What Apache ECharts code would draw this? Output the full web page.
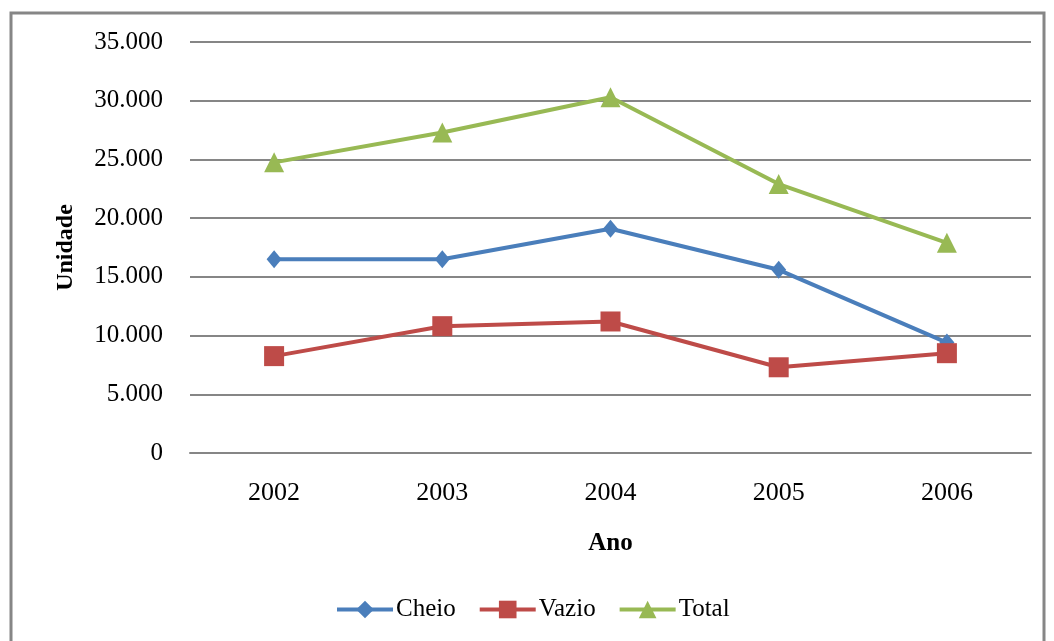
<!DOCTYPE html>
<html>
<head>
<meta charset="utf-8">
<script src="https://cdn.jsdelivr.net/npm/echarts@6/dist/echarts.min.js"></script>
<style>
  html, body { margin: 0; padding: 0; background: #fff; }
  #chart { width: 1054px; height: 641px; }
</style>
</head>
<body>
<div id="chart"></div>
<script>
var anos = ['2002', '2003', '2004', '2005', '2006']
var cheio = [16500, 16500, 19100, 15600, 9400]
var vazio = [8250, 10800, 11200, 7300, 8500]
var total = [24750, 27300, 30300, 22900, 17900]

var chart = echarts.init(document.getElementById('chart'))
var fonte = 'Liberation Serif'

function serie(nome, dados, cor, simbolo, tam) {
  return {
    name: nome,
    type: 'line',
    data: dados,
    symbol: simbolo,
    symbolSize: tam,
    showAllSymbol: true,
    lineStyle: { color: cor, width: 4 },
    itemStyle: { color: cor },
    emphasis: { disabled: true }
  }
}

var option = {
  animation: false,
  textStyle: { fontFamily: fonte },
  graphic: [
    {
      type: 'rect',
      shape: { x: 11, y: 13, width: 1033, height: 640 },
      style: { fill: 'none', stroke: '#868686', lineWidth: 3 }
    }
  ],
  grid: { left: 190, right: 23, top: 42, bottom: 188 },
  legend: {
    top: 592,
    left: 330,
    itemWidth: 56,
    itemHeight: 22,
    itemGap: 22,
    lineStyle: { width: 4 },
    textStyle: { fontFamily: fonte, fontSize: 25, color: '#000', padding: [0, 0, 0, -2] },
    data: ['Cheio', 'Vazio', 'Total']
  },
  xAxis: {
    type: 'category',
    data: anos,
    boundaryGap: true,
    name: 'Ano',
    nameLocation: 'middle',
    nameGap: 78,
    nameTextStyle: { fontFamily: fonte, fontSize: 25, fontWeight: 'bold', color: '#000' },
    axisLine: { show: true, lineStyle: { color: '#868686', width: 2 } },
    axisTick: { show: false },
    axisLabel: { fontFamily: fonte, fontSize: 26, color: '#000', margin: 27 }
  },
  yAxis: {
    type: 'value',
    min: 0,
    max: 35000,
    interval: 5000,
    name: 'Unidade',
    nameLocation: 'middle',
    nameGap: 112,
    nameTextStyle: { fontFamily: fonte, fontSize: 24, fontWeight: 'bold', color: '#000' },
    axisLine: { show: false },
    axisTick: { show: false },
    splitLine: { lineStyle: { color: '#868686', width: 2 } },
    axisLabel: {
      fontFamily: fonte,
      fontSize: 25,
      color: '#000',
      margin: 27,
      formatter: function (v) {
        return String(v).replace(/\B(?=(\d{3})+(?!\d))/g, '.')
      }
    }
  },
  series: [
    serie('Cheio', cheio, '#4a7ebb', 'diamond', [15, 18]),
    serie('Vazio', vazio, '#be4b48', 'rect', 20),
    serie('Total', total, '#98b954', 'triangle', 20)
  ]
}
chart.setOption(option)
</script>
</body>
</html>
